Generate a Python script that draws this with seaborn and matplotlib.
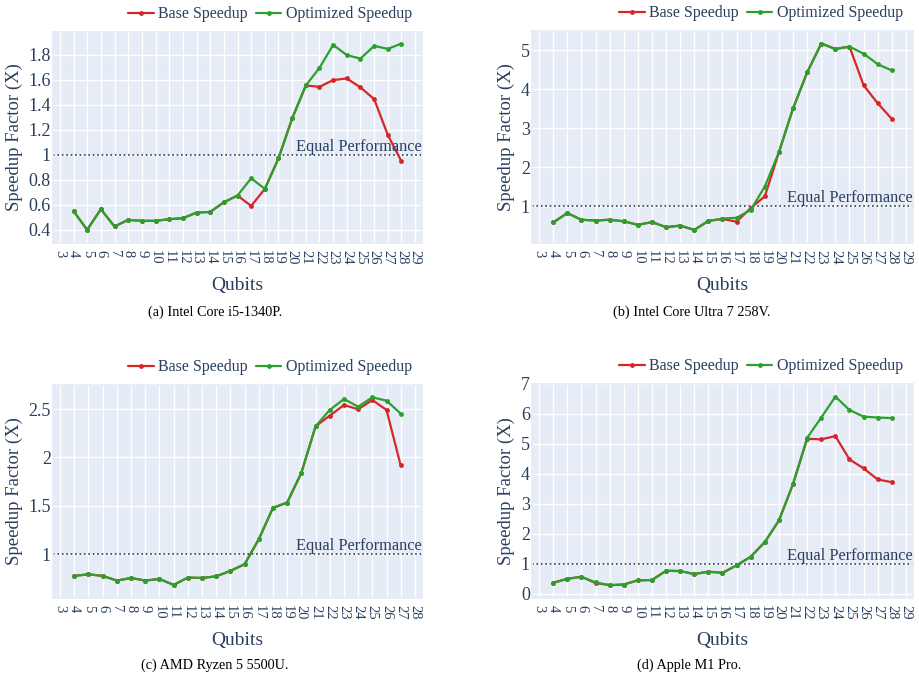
import pandas as pd
import numpy as np
import matplotlib.pyplot as plt
import seaborn as sns

sns.set_theme(style="darkgrid", rc={
    "axes.facecolor": "#E5ECF6",
    "grid.color": "white",
    "grid.linewidth": 1.0,
    "axes.edgecolor": "#E5ECF6",
    "xtick.color": "#2a3f5f",
    "ytick.color": "#2a3f5f",
    "axes.labelcolor": "#2a3f5f",
    "text.color": "#2a3f5f",
})
plt.rcParams['font.family'] = ['Liberation Serif', 'DejaVu Serif']

# Data
qubits_a = [4, 5, 6, 7, 8, 9, 10, 11, 12, 13, 14, 15, 16, 17, 18, 19, 20, 21, 22, 23, 24, 25, 26, 27, 28]
base_a = [0.55, 0.40, 0.565, 0.427, 0.48, 0.472, 0.472, 0.485, 0.493, 0.538, 0.543, 0.62, 0.674,
          0.591, 0.727, 0.971, 1.29, 1.553, 1.542, 1.596, 1.609, 1.537, 1.444, 1.157, 0.947]
opt_a = [0.55, 0.40, 0.565, 0.427, 0.48, 0.472, 0.472, 0.485, 0.493, 0.538, 0.543, 0.62, 0.674,
         0.812, 0.727, 0.971, 1.29, 1.553, 1.694, 1.877, 1.795, 1.768, 1.869, 1.845, 1.888]

qubits_b = [4, 5, 6, 7, 8, 9, 10, 11, 12, 13, 14, 15, 16, 17, 18, 19, 20, 21, 22, 23, 24, 25, 26, 27, 28]
base_b = [0.59, 0.83, 0.66, 0.64, 0.66, 0.62, 0.53, 0.60, 0.47, 0.51, 0.40, 0.63, 0.68,
          0.61, 0.96, 1.26, 2.39, 3.51, 4.43, 5.17, 5.03, 5.09, 4.10, 3.64, 3.24]
opt_b = [0.59, 0.83, 0.66, 0.64, 0.66, 0.62, 0.53, 0.60, 0.47, 0.51, 0.40, 0.63, 0.69,
         0.71, 0.91, 1.51, 2.39, 3.51, 4.43, 5.17, 5.03, 5.09, 4.91, 4.64, 4.48]

qubits_c = [4, 5, 6, 7, 8, 9, 10, 11, 12, 13, 14, 15, 16, 17, 18, 19, 20, 21, 22, 23, 24, 25, 26, 27]
base_c = [0.776, 0.793, 0.776, 0.728, 0.755, 0.728, 0.745, 0.683, 0.759, 0.755, 0.772, 0.828,
          0.897, 1.155, 1.479, 1.534, 1.841, 2.321, 2.431, 2.541, 2.497, 2.593, 2.49, 1.917]
opt_c = [0.776, 0.793, 0.776, 0.728, 0.755, 0.728, 0.745, 0.683, 0.759, 0.755, 0.772, 0.828,
         0.897, 1.155, 1.479, 1.534, 1.841, 2.321, 2.49, 2.603, 2.524, 2.621, 2.586, 2.452]

qubits_d = [4, 5, 6, 7, 8, 9, 10, 11, 12, 13, 14, 15, 16, 17, 18, 19, 20, 21, 22, 23, 24, 25, 26, 27, 28]
base_d = [0.36, 0.49, 0.56, 0.35, 0.28, 0.30, 0.44, 0.45, 0.76, 0.75, 0.65, 0.73, 0.69,
          0.94, 1.23, 1.72, 2.44, 3.66, 5.17, 5.15, 5.26, 4.48, 4.18, 3.81, 3.72]
opt_d = [0.36, 0.49, 0.56, 0.37, 0.28, 0.30, 0.44, 0.45, 0.76, 0.75, 0.65, 0.73, 0.69,
         0.94, 1.23, 1.72, 2.44, 3.66, 5.20, 5.88, 6.58, 6.13, 5.91, 5.88, 5.86]

xticks_a = [3, 4, 5, 6, 7, 8, 9, 10, 11, 12, 13, 14, 15, 16, 17, 18, 19, 20, 21, 22, 23, 24, 25, 26, 27, 28, 29]
xticks_c = [3, 4, 5, 6, 7, 8, 9, 10, 11, 12, 13, 14, 15, 16, 17, 18, 19, 20, 21, 22, 23, 24, 25, 26, 27, 28]

yticks_a = [0.4, 0.6, 0.8, 1.0, 1.2, 1.4, 1.6, 1.8]
yticklabels_a = ['0.4', '0.6', '0.8', '1', '1.2', '1.4', '1.6', '1.8']
yticks_b = [1, 2, 3, 4, 5]
yticks_c = [1, 1.5, 2, 2.5]
yticklabels_c = ['1', '1.5', '2', '2.5']
yticks_d = [0, 1, 2, 3, 4, 5, 6, 7]

captions = ['(a) Intel Core i5-1340P.', '(b) Intel Core Ultra 7 258V.',
            '(c) AMD Ryzen 5 5500U.', '(d) Apple M1 Pro.']

panels = [
    (qubits_a, base_a, opt_a, xticks_a, yticks_a, yticklabels_a, (0.295, 1.98)),
    (qubits_b, base_b, opt_b, xticks_a, yticks_b, [str(v) for v in yticks_b], (0.065, 5.49)),
    (qubits_c, base_c, opt_c, xticks_c, yticks_c, yticklabels_c, (0.548, 2.748)),
    (qubits_d, base_d, opt_d, xticks_a, yticks_d, [str(v) for v in yticks_d], (-0.15, 7.0)),
]

W, H = 919, 683
boxes = [(53, 32, 422, 243), (532, 31, 913, 243), (53, 385, 422, 598), (532, 384, 913, 598)]
caption_pos = [(215, 312), (692, 312), (215, 665), (689, 665)]

fig = plt.figure(figsize=(W / 100, H / 100), dpi=100)
palette = {'Base Speedup': '#d62728', 'Optimized Speedup': '#2ca02c'}

for i, (q, b, o, xt, yt, ytl, ylim) in enumerate(panels):
    x0, y0, x1, y1 = boxes[i]
    ax = fig.add_axes([x0 / W, 1 - y1 / H, (x1 - x0) / W, (y1 - y0) / H])
    df = pd.DataFrame({
        'Qubits': q + q,
        'Speedup': b + o,
        'Series': ['Base Speedup'] * len(q) + ['Optimized Speedup'] * len(q),
    })
    sns.lineplot(data=df, x='Qubits', y='Speedup', hue='Series', palette=palette,
                 hue_order=['Base Speedup', 'Optimized Speedup'], marker='o',
                 markersize=3.5, markeredgewidth=0, linewidth=1.6, ax=ax, sort=False)
    ax.axhline(1, ls=':', color='#2a3f5f', lw=1.2, zorder=1)
    ax.text(1.0, 1, 'Equal Performance', transform=ax.get_yaxis_transform(),
            ha='right', va='bottom', fontsize=11.8)
    ax.set_xlim(xt[0] - 0.5, xt[-1] + 0.5)
    ax.set_xticks(xt)
    ax.set_xticklabels([str(v) for v in xt], rotation=-90, fontsize=10.5)
    ax.set_ylim(*ylim)
    ax.set_yticks(yt)
    ax.set_yticklabels(ytl, fontsize=13)
    ax.tick_params(axis='x', length=0, pad=5)
    ax.tick_params(axis='y', length=0, pad=1.5)
    ax.set_xlabel('Qubits', fontsize=14, labelpad=9)
    ax.set_ylabel('Speedup Factor (X)', fontsize=13.5, labelpad=4)
    sns.move_legend(ax, 'lower right', bbox_to_anchor=(1.0, 1.0), ncol=2, frameon=False,
                    title=None, fontsize=11.5, handlelength=1.6, columnspacing=0.5,
                    handletextpad=0.3, borderaxespad=0.2)
    cx, cy = caption_pos[i]
    fig.text(cx / W, 1 - cy / H, captions[i], ha='center', va='center',
             fontsize=10.3, color='black')

plt.savefig('out.png', dpi=100)
